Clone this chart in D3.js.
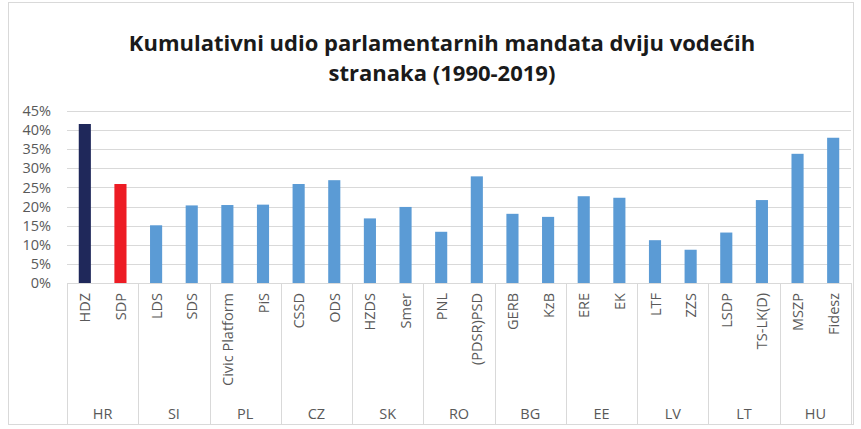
<!DOCTYPE html>
<html lang="en">
<head>
<meta charset="UTF-8">
<title>Kumulativni udio parlamentarnih mandata</title>
<script src="https://cdnjs.cloudflare.com/ajax/libs/d3/7.8.5/d3.min.js"></script>
<style>
    body { margin: 0; background: #fff; font-family: 'Open Sans', sans-serif; }
    .grid line { stroke: #d9d9d9; }
    .ytick text { fill: #595959; font-size: 14.5px; }
    .party text { fill: #595959; font-size: 14.5px; }
    .country text { fill: #595959; font-size: 14.5px; }
</style>
</head>
<body>
<div id="chart"></div>
<script>
const parties = ["HDZ", "SDP", "LDS", "SDS", "Civic Platform", "PiS", "CSSD", "ODS", "HZDS", "Smer",
    "PNL", "(PDSR)PSD", "GERB", "KzB", "ERE", "EK", "LTF", "ZZS", "LSDP", "TS-LK(D)", "MSZP", "Fidesz"];
const values = [0.416, 0.259, 0.151, 0.203, 0.204, 0.205, 0.259, 0.269, 0.169, 0.199,
    0.134, 0.279, 0.181, 0.173, 0.227, 0.223, 0.112, 0.087, 0.132, 0.217, 0.338, 0.380];
const countries = ["HR", "SI", "PL", "CZ", "SK", "RO", "BG", "EE", "LV", "LT", "HU"];
const partyCountry = ["HR", "HR", "SI", "SI", "PL", "PL", "CZ", "CZ", "SK", "SK",
    "RO", "RO", "BG", "BG", "EE", "EE", "LV", "LV", "LT", "LT", "HU", "HU"];
const yTicks = [0, 0.05, 0.10, 0.15, 0.20, 0.25, 0.30, 0.35, 0.40, 0.45];
const barColors = { "HDZ": "#1f285a", "SDP": "#ed1c24" };

const W = 861, H = 429;
const plotLeft = 67, plotRight = 851, plotTop = 111, plotBottom = 283;

const svg = d3.select("#chart").append("svg")
    .attr("width", W).attr("height", H);

// chart frame
svg.append("rect")
    .attr("x", 8.5).attr("y", 2.5).attr("width", 845).attr("height", 422)
    .attr("fill", "#fff").attr("stroke", "#d9d9d9");

const title = svg.append("text")
    .attr("text-anchor", "middle")
    .attr("font-size", 22).attr("font-weight", "bold").attr("fill", "#1a1a1a");
title.append("tspan").attr("x", 442).attr("y", 51)
    .text("Kumulativni udio parlamentarnih mandata dviju vodećih");
title.append("tspan").attr("x", 442).attr("y", 81)
    .text("stranaka (1990-2019)");

const x = d3.scaleBand().domain(parties).range([plotLeft, plotRight])
    .paddingInner(0.66).paddingOuter(0.33);
const y = d3.scaleLinear().domain([0, 0.45]).range([plotBottom, plotTop]);

// gridlines
svg.append("g").attr("class", "grid")
    .selectAll("line").data(yTicks).join("line")
    .attr("x1", plotLeft).attr("x2", plotRight)
    .attr("y1", d => Math.round(y(d)) + 0.5).attr("y2", d => Math.round(y(d)) + 0.5);

// y labels
svg.append("g").attr("class", "ytick")
    .selectAll("text").data(yTicks).join("text")
    .attr("x", 51).attr("y", d => y(d)).attr("dy", "0.35em")
    .attr("text-anchor", "end")
    .text(d3.format(".0%"));

// bars
svg.append("g").selectAll("rect").data(parties).join("rect")
    .attr("x", d => x(d)).attr("width", x.bandwidth())
    .attr("y", (d, i) => y(values[i]))
    .attr("height", (d, i) => plotBottom - y(values[i]))
    .attr("fill", d => barColors[d] || "#5b9bd5");

// group separators
const step = (plotRight - plotLeft) / countries.length;
const sep = d3.range(countries.length + 1).map(i => plotLeft + i * step);
svg.append("g").attr("class", "grid")
    .selectAll("line").data(sep).join("line")
    .attr("x1", d => Math.round(d) + 0.5).attr("x2", d => Math.round(d) + 0.5)
    .attr("y1", plotBottom).attr("y2", 425);

// party labels (rotated)
svg.append("g").attr("class", "party")
    .selectAll("text").data(parties).join("text")
    .attr("transform", d => `translate(${x(d) + x.bandwidth() / 2 + 5.5},${plotBottom + 10}) rotate(-90)`)
    .attr("text-anchor", "end")
    .text(d => d);

// country labels
svg.append("g").attr("class", "country")
    .selectAll("text").data(countries).join("text")
    .attr("x", (d, i) => {
        const members = parties.filter((p, j) => partyCountry[j] === d);
        return (x(members[0]) + x(members[members.length - 1]) + x.bandwidth()) / 2;
    })
    .attr("y", 419)
    .attr("text-anchor", "middle")
    .text(d => d);
</script>
</body>
</html>
